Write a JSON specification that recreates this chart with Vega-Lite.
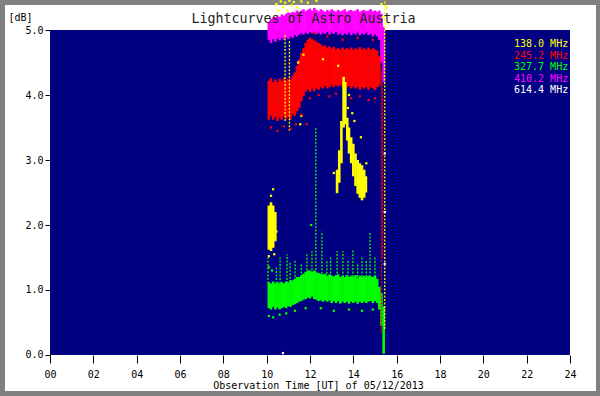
{
  "$schema": "https://vega.github.io/schema/vega-lite/v6.json",
  "width": 591,
  "height": 386,
  "autosize": {"type": "none"},
  "padding": {"left": 5, "top": 5, "right": 4, "bottom": 5},
  "background": "#808080",
  "config": {
    "view": {"fill": "white", "stroke": null},
    "font": "DejaVu Sans Mono",
    "axis": {"labelFont": "DejaVu Sans Mono", "titleFont": "DejaVu Sans Mono", "labelFontSize": 10, "titleFontSize": 10, "titleFontWeight": "normal", "labelColor": "black", "titleColor": "black", "tickColor": "black", "grid": false, "domain": false, "labelOverlap": false, "labelFlush": false}
  },
  "title": {
    "text": "Lightcurves of Astro Austria",
    "font": "DejaVu Sans Mono",
    "fontSize": 13.3,
    "fontWeight": "normal",
    "color": "#222222",
    "anchor": "middle",
    "frame": "group",
    "baseline": "alphabetic",
    "offset": 0,
    "dx": 3,
    "dy": 37
  },
  "datasets": {
    "bands": [
      {"f": "410.2 MHz", "t": 10.1, "lo": 4.85, "hi": 5.12},
      {"f": "410.2 MHz", "t": 10.2, "lo": 4.8, "hi": 5.17},
      {"f": "410.2 MHz", "t": 10.3, "lo": 4.86, "hi": 5.19},
      {"f": "410.2 MHz", "t": 10.4, "lo": 4.82, "hi": 5.2},
      {"f": "410.2 MHz", "t": 10.5, "lo": 4.87, "hi": 5.22},
      {"f": "410.2 MHz", "t": 10.6, "lo": 4.84, "hi": 5.2},
      {"f": "410.2 MHz", "t": 10.7, "lo": 4.88, "hi": 5.24},
      {"f": "410.2 MHz", "t": 10.8, "lo": 4.85, "hi": 5.22},
      {"f": "410.2 MHz", "t": 10.9, "lo": 4.88, "hi": 5.25},
      {"f": "410.2 MHz", "t": 11.0, "lo": 4.86, "hi": 5.27},
      {"f": "410.2 MHz", "t": 11.1, "lo": 4.9, "hi": 5.26},
      {"f": "410.2 MHz", "t": 11.2, "lo": 4.88, "hi": 5.28},
      {"f": "410.2 MHz", "t": 11.3, "lo": 4.92, "hi": 5.27},
      {"f": "410.2 MHz", "t": 11.4, "lo": 4.9, "hi": 5.3},
      {"f": "410.2 MHz", "t": 11.5, "lo": 4.93, "hi": 5.28},
      {"f": "410.2 MHz", "t": 11.6, "lo": 4.95, "hi": 5.3},
      {"f": "410.2 MHz", "t": 11.7, "lo": 4.93, "hi": 5.32},
      {"f": "410.2 MHz", "t": 11.8, "lo": 4.96, "hi": 5.29},
      {"f": "410.2 MHz", "t": 11.9, "lo": 4.94, "hi": 5.31},
      {"f": "410.2 MHz", "t": 12.0, "lo": 4.97, "hi": 5.33},
      {"f": "410.2 MHz", "t": 12.1, "lo": 4.95, "hi": 5.3},
      {"f": "410.2 MHz", "t": 12.2, "lo": 4.97, "hi": 5.34},
      {"f": "410.2 MHz", "t": 12.3, "lo": 4.94, "hi": 5.31},
      {"f": "410.2 MHz", "t": 12.4, "lo": 4.96, "hi": 5.29},
      {"f": "410.2 MHz", "t": 12.5, "lo": 4.93, "hi": 5.32},
      {"f": "410.2 MHz", "t": 12.6, "lo": 4.96, "hi": 5.3},
      {"f": "410.2 MHz", "t": 12.7, "lo": 4.94, "hi": 5.28},
      {"f": "410.2 MHz", "t": 12.8, "lo": 4.97, "hi": 5.31},
      {"f": "410.2 MHz", "t": 12.9, "lo": 4.93, "hi": 5.29},
      {"f": "410.2 MHz", "t": 13.0, "lo": 4.96, "hi": 5.32},
      {"f": "410.2 MHz", "t": 13.1, "lo": 4.94, "hi": 5.3},
      {"f": "410.2 MHz", "t": 13.2, "lo": 4.97, "hi": 5.28},
      {"f": "410.2 MHz", "t": 13.3, "lo": 4.93, "hi": 5.31},
      {"f": "410.2 MHz", "t": 13.4, "lo": 4.95, "hi": 5.29},
      {"f": "410.2 MHz", "t": 13.5, "lo": 4.92, "hi": 5.3},
      {"f": "410.2 MHz", "t": 13.6, "lo": 4.95, "hi": 5.32},
      {"f": "410.2 MHz", "t": 13.7, "lo": 4.93, "hi": 5.28},
      {"f": "410.2 MHz", "t": 13.8, "lo": 4.96, "hi": 5.3},
      {"f": "410.2 MHz", "t": 13.9, "lo": 4.92, "hi": 5.31},
      {"f": "410.2 MHz", "t": 14.0, "lo": 4.95, "hi": 5.29},
      {"f": "410.2 MHz", "t": 14.1, "lo": 4.93, "hi": 5.3},
      {"f": "410.2 MHz", "t": 14.2, "lo": 4.96, "hi": 5.32},
      {"f": "410.2 MHz", "t": 14.3, "lo": 4.92, "hi": 5.28},
      {"f": "410.2 MHz", "t": 14.4, "lo": 4.95, "hi": 5.3},
      {"f": "410.2 MHz", "t": 14.5, "lo": 4.93, "hi": 5.31},
      {"f": "410.2 MHz", "t": 14.6, "lo": 4.96, "hi": 5.29},
      {"f": "410.2 MHz", "t": 14.7, "lo": 4.92, "hi": 5.3},
      {"f": "410.2 MHz", "t": 14.8, "lo": 4.94, "hi": 5.32},
      {"f": "410.2 MHz", "t": 14.9, "lo": 4.9, "hi": 5.29},
      {"f": "410.2 MHz", "t": 15.0, "lo": 4.93, "hi": 5.3},
      {"f": "410.2 MHz", "t": 15.1, "lo": 4.9, "hi": 5.28},
      {"f": "410.2 MHz", "t": 15.2, "lo": 4.85, "hi": 5.3},
      {"f": "410.2 MHz", "t": 15.3, "lo": 4.5, "hi": 5.25},
      {"f": "410.2 MHz", "t": 15.4, "lo": 4.2, "hi": 5.05},
      {"f": "245.2 MHz", "t": 10.1, "lo": 3.62, "hi": 4.22},
      {"f": "245.2 MHz", "t": 10.2, "lo": 3.68, "hi": 4.26},
      {"f": "245.2 MHz", "t": 10.3, "lo": 3.62, "hi": 4.2},
      {"f": "245.2 MHz", "t": 10.4, "lo": 3.66, "hi": 4.24},
      {"f": "245.2 MHz", "t": 10.5, "lo": 3.6, "hi": 4.2},
      {"f": "245.2 MHz", "t": 10.6, "lo": 3.65, "hi": 4.25},
      {"f": "245.2 MHz", "t": 10.7, "lo": 3.62, "hi": 4.22},
      {"f": "245.2 MHz", "t": 10.8, "lo": 3.68, "hi": 4.27},
      {"f": "245.2 MHz", "t": 10.9, "lo": 3.63, "hi": 4.22},
      {"f": "245.2 MHz", "t": 11.0, "lo": 3.66, "hi": 4.25},
      {"f": "245.2 MHz", "t": 11.1, "lo": 3.62, "hi": 4.24},
      {"f": "245.2 MHz", "t": 11.2, "lo": 3.7, "hi": 4.3},
      {"f": "245.2 MHz", "t": 11.3, "lo": 3.68, "hi": 4.35},
      {"f": "245.2 MHz", "t": 11.4, "lo": 3.75, "hi": 4.45},
      {"f": "245.2 MHz", "t": 11.5, "lo": 3.8, "hi": 4.55},
      {"f": "245.2 MHz", "t": 11.6, "lo": 3.9, "hi": 4.65},
      {"f": "245.2 MHz", "t": 11.7, "lo": 3.98, "hi": 4.72},
      {"f": "245.2 MHz", "t": 11.8, "lo": 4.05, "hi": 4.8},
      {"f": "245.2 MHz", "t": 11.9, "lo": 4.08, "hi": 4.85},
      {"f": "245.2 MHz", "t": 12.0, "lo": 4.05, "hi": 4.88},
      {"f": "245.2 MHz", "t": 12.1, "lo": 4.1, "hi": 4.86},
      {"f": "245.2 MHz", "t": 12.2, "lo": 4.06, "hi": 4.84},
      {"f": "245.2 MHz", "t": 12.3, "lo": 4.1, "hi": 4.82},
      {"f": "245.2 MHz", "t": 12.4, "lo": 4.08, "hi": 4.8},
      {"f": "245.2 MHz", "t": 12.5, "lo": 4.12, "hi": 4.78},
      {"f": "245.2 MHz", "t": 12.6, "lo": 4.1, "hi": 4.75},
      {"f": "245.2 MHz", "t": 12.7, "lo": 4.14, "hi": 4.76},
      {"f": "245.2 MHz", "t": 12.8, "lo": 4.1, "hi": 4.73},
      {"f": "245.2 MHz", "t": 12.9, "lo": 4.12, "hi": 4.75},
      {"f": "245.2 MHz", "t": 13.0, "lo": 4.15, "hi": 4.72},
      {"f": "245.2 MHz", "t": 13.1, "lo": 4.12, "hi": 4.74},
      {"f": "245.2 MHz", "t": 13.2, "lo": 4.15, "hi": 4.7},
      {"f": "245.2 MHz", "t": 13.3, "lo": 4.13, "hi": 4.72},
      {"f": "245.2 MHz", "t": 13.4, "lo": 4.16, "hi": 4.7},
      {"f": "245.2 MHz", "t": 13.5, "lo": 4.12, "hi": 4.73},
      {"f": "245.2 MHz", "t": 13.6, "lo": 4.15, "hi": 4.7},
      {"f": "245.2 MHz", "t": 13.7, "lo": 4.12, "hi": 4.72},
      {"f": "245.2 MHz", "t": 13.8, "lo": 4.14, "hi": 4.7},
      {"f": "245.2 MHz", "t": 13.9, "lo": 4.1, "hi": 4.73},
      {"f": "245.2 MHz", "t": 14.0, "lo": 4.13, "hi": 4.7},
      {"f": "245.2 MHz", "t": 14.1, "lo": 4.1, "hi": 4.72},
      {"f": "245.2 MHz", "t": 14.2, "lo": 4.12, "hi": 4.7},
      {"f": "245.2 MHz", "t": 14.3, "lo": 4.08, "hi": 4.74},
      {"f": "245.2 MHz", "t": 14.4, "lo": 4.12, "hi": 4.7},
      {"f": "245.2 MHz", "t": 14.5, "lo": 4.1, "hi": 4.72},
      {"f": "245.2 MHz", "t": 14.6, "lo": 4.12, "hi": 4.7},
      {"f": "245.2 MHz", "t": 14.7, "lo": 4.08, "hi": 4.73},
      {"f": "245.2 MHz", "t": 14.8, "lo": 4.12, "hi": 4.7},
      {"f": "245.2 MHz", "t": 14.9, "lo": 4.1, "hi": 4.72},
      {"f": "245.2 MHz", "t": 15.0, "lo": 4.08, "hi": 4.7},
      {"f": "245.2 MHz", "t": 15.1, "lo": 4.12, "hi": 4.68},
      {"f": "245.2 MHz", "t": 15.2, "lo": 4.15, "hi": 4.6},
      {"f": "327.7 MHz", "t": 10.1, "lo": 0.72, "hi": 1.12},
      {"f": "327.7 MHz", "t": 10.2, "lo": 0.7, "hi": 1.1},
      {"f": "327.7 MHz", "t": 10.3, "lo": 0.74, "hi": 1.13},
      {"f": "327.7 MHz", "t": 10.4, "lo": 0.7, "hi": 1.1},
      {"f": "327.7 MHz", "t": 10.5, "lo": 0.73, "hi": 1.12},
      {"f": "327.7 MHz", "t": 10.6, "lo": 0.7, "hi": 1.1},
      {"f": "327.7 MHz", "t": 10.7, "lo": 0.72, "hi": 1.12},
      {"f": "327.7 MHz", "t": 10.8, "lo": 0.74, "hi": 1.1},
      {"f": "327.7 MHz", "t": 10.9, "lo": 0.72, "hi": 1.13},
      {"f": "327.7 MHz", "t": 11.0, "lo": 0.75, "hi": 1.12},
      {"f": "327.7 MHz", "t": 11.1, "lo": 0.74, "hi": 1.15},
      {"f": "327.7 MHz", "t": 11.2, "lo": 0.77, "hi": 1.15},
      {"f": "327.7 MHz", "t": 11.3, "lo": 0.78, "hi": 1.17},
      {"f": "327.7 MHz", "t": 11.4, "lo": 0.8, "hi": 1.2},
      {"f": "327.7 MHz", "t": 11.5, "lo": 0.82, "hi": 1.2},
      {"f": "327.7 MHz", "t": 11.6, "lo": 0.83, "hi": 1.22},
      {"f": "327.7 MHz", "t": 11.7, "lo": 0.85, "hi": 1.25},
      {"f": "327.7 MHz", "t": 11.8, "lo": 0.86, "hi": 1.28},
      {"f": "327.7 MHz", "t": 11.9, "lo": 0.88, "hi": 1.3},
      {"f": "327.7 MHz", "t": 12.0, "lo": 0.87, "hi": 1.3},
      {"f": "327.7 MHz", "t": 12.1, "lo": 0.9, "hi": 1.28},
      {"f": "327.7 MHz", "t": 12.2, "lo": 0.86, "hi": 1.3},
      {"f": "327.7 MHz", "t": 12.3, "lo": 0.85, "hi": 1.27},
      {"f": "327.7 MHz", "t": 12.4, "lo": 0.83, "hi": 1.26},
      {"f": "327.7 MHz", "t": 12.5, "lo": 0.84, "hi": 1.25},
      {"f": "327.7 MHz", "t": 12.6, "lo": 0.82, "hi": 1.24},
      {"f": "327.7 MHz", "t": 12.7, "lo": 0.84, "hi": 1.25},
      {"f": "327.7 MHz", "t": 12.8, "lo": 0.82, "hi": 1.22},
      {"f": "327.7 MHz", "t": 12.9, "lo": 0.84, "hi": 1.24},
      {"f": "327.7 MHz", "t": 13.0, "lo": 0.8, "hi": 1.22},
      {"f": "327.7 MHz", "t": 13.1, "lo": 0.83, "hi": 1.21},
      {"f": "327.7 MHz", "t": 13.2, "lo": 0.8, "hi": 1.23},
      {"f": "327.7 MHz", "t": 13.3, "lo": 0.83, "hi": 1.24},
      {"f": "327.7 MHz", "t": 13.4, "lo": 0.79, "hi": 1.2},
      {"f": "327.7 MHz", "t": 13.5, "lo": 0.82, "hi": 1.22},
      {"f": "327.7 MHz", "t": 13.6, "lo": 0.8, "hi": 1.2},
      {"f": "327.7 MHz", "t": 13.7, "lo": 0.82, "hi": 1.23},
      {"f": "327.7 MHz", "t": 13.8, "lo": 0.79, "hi": 1.2},
      {"f": "327.7 MHz", "t": 13.9, "lo": 0.82, "hi": 1.22},
      {"f": "327.7 MHz", "t": 14.0, "lo": 0.8, "hi": 1.2},
      {"f": "327.7 MHz", "t": 14.1, "lo": 0.82, "hi": 1.23},
      {"f": "327.7 MHz", "t": 14.2, "lo": 0.79, "hi": 1.19},
      {"f": "327.7 MHz", "t": 14.3, "lo": 0.82, "hi": 1.22},
      {"f": "327.7 MHz", "t": 14.4, "lo": 0.8, "hi": 1.2},
      {"f": "327.7 MHz", "t": 14.5, "lo": 0.82, "hi": 1.22},
      {"f": "327.7 MHz", "t": 14.6, "lo": 0.8, "hi": 1.2},
      {"f": "327.7 MHz", "t": 14.7, "lo": 0.82, "hi": 1.22},
      {"f": "327.7 MHz", "t": 14.8, "lo": 0.83, "hi": 1.21},
      {"f": "327.7 MHz", "t": 14.9, "lo": 0.8, "hi": 1.2},
      {"f": "327.7 MHz", "t": 15.0, "lo": 0.83, "hi": 1.22},
      {"f": "327.7 MHz", "t": 15.1, "lo": 0.8, "hi": 1.17},
      {"f": "327.7 MHz", "t": 15.2, "lo": 0.7, "hi": 1.05},
      {"f": "327.7 MHz", "t": 15.3, "lo": 0.45, "hi": 0.95},
      {"f": "327.7 MHz", "t": 15.4, "lo": 0.02, "hi": 0.75},
      {"f": "138.0 MHz", "t": 10.1, "lo": 1.62, "hi": 2.3},
      {"f": "138.0 MHz", "t": 10.2, "lo": 1.6, "hi": 2.35},
      {"f": "138.0 MHz", "t": 10.3, "lo": 1.65, "hi": 2.3},
      {"f": "138.0 MHz", "t": 10.4, "lo": 1.75, "hi": 2.2},
      {"f": "138.0 MHz", "t": 13.25, "lo": 2.49, "hi": 2.85},
      {"f": "138.0 MHz", "t": 13.35, "lo": 2.65, "hi": 3.15},
      {"f": "138.0 MHz", "t": 13.45, "lo": 2.95, "hi": 3.6},
      {"f": "138.0 MHz", "t": 13.55, "lo": 3.5, "hi": 4.28},
      {"f": "138.0 MHz", "t": 13.63, "lo": 3.55, "hi": 4.2},
      {"f": "138.0 MHz", "t": 13.72, "lo": 3.3, "hi": 3.65},
      {"f": "138.0 MHz", "t": 13.8, "lo": 3.1, "hi": 3.5},
      {"f": "138.0 MHz", "t": 13.9, "lo": 2.95, "hi": 3.35},
      {"f": "138.0 MHz", "t": 14.0, "lo": 2.75, "hi": 3.25},
      {"f": "138.0 MHz", "t": 14.1, "lo": 2.6, "hi": 3.1},
      {"f": "138.0 MHz", "t": 14.2, "lo": 2.48, "hi": 3.0},
      {"f": "138.0 MHz", "t": 14.3, "lo": 2.42, "hi": 2.95},
      {"f": "138.0 MHz", "t": 14.4, "lo": 2.38, "hi": 2.92},
      {"f": "138.0 MHz", "t": 14.5, "lo": 2.42, "hi": 2.85},
      {"f": "138.0 MHz", "t": 14.58, "lo": 2.5, "hi": 2.75}
    ],
    "spikes": [
      {"f": "327.7 MHz", "t": 10.06, "lo": 1.1, "hi": 1.5},
      {"f": "327.7 MHz", "t": 10.45, "lo": 1.1, "hi": 1.35},
      {"f": "327.7 MHz", "t": 10.62, "lo": 1.1, "hi": 1.5},
      {"f": "327.7 MHz", "t": 10.94, "lo": 1.1, "hi": 1.55},
      {"f": "327.7 MHz", "t": 11.08, "lo": 1.12, "hi": 1.42},
      {"f": "327.7 MHz", "t": 11.31, "lo": 1.15, "hi": 1.45},
      {"f": "327.7 MHz", "t": 11.6, "lo": 1.2, "hi": 1.4},
      {"f": "327.7 MHz", "t": 11.86, "lo": 1.25, "hi": 1.57},
      {"f": "327.7 MHz", "t": 12.09, "lo": 1.25, "hi": 1.6},
      {"f": "327.7 MHz", "t": 12.27, "lo": 1.2, "hi": 3.5},
      {"f": "327.7 MHz", "t": 12.55, "lo": 1.25, "hi": 1.9},
      {"f": "327.7 MHz", "t": 12.78, "lo": 1.25, "hi": 1.45},
      {"f": "327.7 MHz", "t": 12.95, "lo": 1.2, "hi": 1.5},
      {"f": "327.7 MHz", "t": 13.25, "lo": 1.2, "hi": 1.6},
      {"f": "327.7 MHz", "t": 13.52, "lo": 1.2, "hi": 1.6},
      {"f": "327.7 MHz", "t": 13.75, "lo": 1.2, "hi": 1.45},
      {"f": "327.7 MHz", "t": 13.98, "lo": 1.2, "hi": 1.62},
      {"f": "327.7 MHz", "t": 14.2, "lo": 1.2, "hi": 1.4},
      {"f": "327.7 MHz", "t": 14.4, "lo": 1.2, "hi": 1.52},
      {"f": "327.7 MHz", "t": 14.6, "lo": 1.2, "hi": 1.45},
      {"f": "327.7 MHz", "t": 14.77, "lo": 1.2, "hi": 1.88},
      {"f": "327.7 MHz", "t": 15.0, "lo": 1.2, "hi": 1.5},
      {"f": "245.2 MHz", "t": 15.3, "lo": 0.35, "hi": 4.4},
      {"f": "245.2 MHz", "t": 15.35, "lo": 1.5, "hi": 4.2},
      {"f": "138.0 MHz", "t": 10.85, "lo": 3.6, "hi": 4.95},
      {"f": "138.0 MHz", "t": 11.05, "lo": 3.45, "hi": 4.85},
      {"f": "138.0 MHz", "t": 15.45, "lo": 0.4, "hi": 5.45}
    ],
    "dots": [
      {"f": "138.0 MHz", "t": 10.45, "v": 5.4},
      {"f": "138.0 MHz", "t": 10.55, "v": 5.3},
      {"f": "138.0 MHz", "t": 10.65, "v": 5.44},
      {"f": "138.0 MHz", "t": 10.75, "v": 5.35},
      {"f": "138.0 MHz", "t": 10.85, "v": 5.42},
      {"f": "138.0 MHz", "t": 10.95, "v": 5.3},
      {"f": "138.0 MHz", "t": 11.05, "v": 5.45},
      {"f": "138.0 MHz", "t": 11.15, "v": 5.38},
      {"f": "138.0 MHz", "t": 11.25, "v": 5.43},
      {"f": "138.0 MHz", "t": 11.4, "v": 5.35},
      {"f": "138.0 MHz", "t": 11.6, "v": 5.44},
      {"f": "138.0 MHz", "t": 11.9, "v": 5.42},
      {"f": "138.0 MHz", "t": 12.3, "v": 5.45},
      {"f": "138.0 MHz", "t": 15.3, "v": 5.4},
      {"f": "138.0 MHz", "t": 15.35, "v": 5.2},
      {"f": "138.0 MHz", "t": 15.55, "v": 5.35},
      {"f": "138.0 MHz", "t": 15.6, "v": 5.1},
      {"f": "138.0 MHz", "t": 10.2, "v": 2.45},
      {"f": "138.0 MHz", "t": 10.3, "v": 2.55},
      {"f": "138.0 MHz", "t": 10.1, "v": 1.52},
      {"f": "138.0 MHz", "t": 10.35, "v": 1.55},
      {"f": "138.0 MHz", "t": 10.45, "v": 1.9},
      {"f": "138.0 MHz", "t": 13.75, "v": 3.8},
      {"f": "138.0 MHz", "t": 13.95, "v": 3.72},
      {"f": "138.0 MHz", "t": 14.05, "v": 3.6},
      {"f": "138.0 MHz", "t": 14.35, "v": 3.35},
      {"f": "138.0 MHz", "t": 14.6, "v": 2.95},
      {"f": "138.0 MHz", "t": 13.1, "v": 2.8},
      {"f": "138.0 MHz", "t": 13.3, "v": 4.45},
      {"f": "138.0 MHz", "t": 13.8, "v": 4.0},
      {"f": "138.0 MHz", "t": 11.45, "v": 4.5},
      {"f": "138.0 MHz", "t": 11.7, "v": 4.62},
      {"f": "138.0 MHz", "t": 12.6, "v": 4.55},
      {"f": "138.0 MHz", "t": 11.6, "v": 3.68},
      {"f": "138.0 MHz", "t": 11.55, "v": 3.55},
      {"f": "245.2 MHz", "t": 10.2, "v": 3.5},
      {"f": "245.2 MHz", "t": 10.5, "v": 3.45},
      {"f": "245.2 MHz", "t": 10.8, "v": 3.52},
      {"f": "245.2 MHz", "t": 11.1, "v": 3.48},
      {"f": "245.2 MHz", "t": 11.35, "v": 3.55},
      {"f": "245.2 MHz", "t": 11.6, "v": 3.7},
      {"f": "245.2 MHz", "t": 11.85, "v": 3.55},
      {"f": "245.2 MHz", "t": 12.0, "v": 3.95},
      {"f": "245.2 MHz", "t": 12.4, "v": 4.0},
      {"f": "245.2 MHz", "t": 12.9, "v": 3.98},
      {"f": "245.2 MHz", "t": 13.2, "v": 4.02},
      {"f": "245.2 MHz", "t": 13.9, "v": 3.95},
      {"f": "245.2 MHz", "t": 14.3, "v": 3.98},
      {"f": "245.2 MHz", "t": 14.7, "v": 3.92},
      {"f": "245.2 MHz", "t": 15.0, "v": 3.95},
      {"f": "245.2 MHz", "t": 12.2, "v": 4.95},
      {"f": "245.2 MHz", "t": 12.8, "v": 4.9},
      {"f": "245.2 MHz", "t": 13.5, "v": 4.85},
      {"f": "245.2 MHz", "t": 14.2, "v": 4.88},
      {"f": "245.2 MHz", "t": 14.9, "v": 4.85},
      {"f": "327.7 MHz", "t": 10.1, "v": 0.6},
      {"f": "327.7 MHz", "t": 10.3, "v": 0.58},
      {"f": "327.7 MHz", "t": 10.6, "v": 0.62},
      {"f": "327.7 MHz", "t": 10.9, "v": 0.64},
      {"f": "327.7 MHz", "t": 11.3, "v": 0.68},
      {"f": "327.7 MHz", "t": 11.8, "v": 0.72},
      {"f": "327.7 MHz", "t": 12.5, "v": 0.72},
      {"f": "327.7 MHz", "t": 13.1, "v": 0.68},
      {"f": "327.7 MHz", "t": 13.8, "v": 0.7},
      {"f": "327.7 MHz", "t": 14.4, "v": 0.68},
      {"f": "327.7 MHz", "t": 14.9, "v": 0.7},
      {"f": "327.7 MHz", "t": 10.1, "v": 1.35},
      {"f": "327.7 MHz", "t": 10.25, "v": 1.3},
      {"f": "327.7 MHz", "t": 12.05, "v": 2.0},
      {"f": "614.4 MHz", "t": 10.75, "v": 0.03},
      {"f": "614.4 MHz", "t": 15.45, "v": 2.2},
      {"f": "614.4 MHz", "t": 15.45, "v": 3.1},
      {"f": "614.4 MHz", "t": 15.45, "v": 1.4}
    ]
  },
  "layer": [
    {
      "data": {"values": [{}]},
      "mark": {"type": "rect", "color": "#000080"},
      "encoding": {
        "x": {
          "datum": 0, "type": "quantitative",
          "scale": {"domain": [-2.077, 25.2], "nice": false, "zero": false},
          "title": "Observation Time [UT] of 05/12/2013",
          "axis": {
            "values": [0, 1, 2, 3, 4, 5, 6, 7, 8, 9, 10, 11, 12, 13, 14, 15, 16, 17, 18, 19, 20, 21, 22, 23, 24],
            "offset": -36,
            "labelExpr": "datum.value % 2 === 0 ? (datum.value < 10 ? '0' : '') + datum.value : ''",
            "tickSize": {"condition": {"test": "datum.value % 2 === 0", "value": 8}, "value": 5},
            "labelBaseline": "alphabetic",
            "labelPadding": 14,
            "titleX": 313,
            "titleY": 33.5,
            "titleAlign": "center",
            "titleBaseline": "alphabetic"
          }
        },
        "x2": {"datum": 24},
        "y": {
          "datum": 0, "type": "quantitative",
          "scale": {"domain": [-0.554, 5.385], "nice": false, "zero": false},
          "title": "[dB]",
          "axis": {
            "values": [0, 0.5, 1, 1.5, 2, 2.5, 3, 3.5, 4, 4.5, 5],
            "format": ".1f",
            "offset": -45,
            "tickSize": 5,
            "labelPadding": 2,
            "titleAngle": 0,
            "titleX": -30,
            "titleY": 12,
            "titleAlign": "center",
            "titleBaseline": "middle"
          }
        },
        "y2": {"datum": 5}
      }
    },
    {
      "data": {"name": "bands"},
      "mark": {"type": "rule", "strokeWidth": 2.6, "strokeCap": "butt"},
      "encoding": {
        "x": {"field": "t", "type": "quantitative", "scale": {"domain": [-2.077, 25.2], "nice": false, "zero": false}, "title": "Observation Time [UT] of 05/12/2013"},
        "y": {"field": "lo", "type": "quantitative", "scale": {"domain": [-0.554, 5.385], "nice": false, "zero": false}, "title": "[dB]"},
        "y2": {"field": "hi"},
        "color": {
          "field": "f", "type": "nominal",
          "scale": {"domain": ["138.0 MHz", "245.2 MHz", "327.7 MHz", "410.2 MHz", "614.4 MHz"], "range": ["#ffff00", "#ff0000", "#00ff00", "#ff00ff", "#ffffff"]},
          "legend": {
            "orient": "none",
            "legendX": 499,
            "legendY": 34,
            "title": null,
            "padding": 0,
            "symbolOpacity": 0,
            "symbolSize": 0,
            "symbolStrokeWidth": 0,
            "labelOffset": 0,
            "labelFont": "DejaVu Sans Mono",
            "labelFontSize": 10,
            "rowPadding": 1.5,
            "encode": {"labels": {"update": {"fill": {"scale": "color", "field": "value"}}}}
          }
        }
      }
    },
    {
      "data": {"name": "spikes"},
      "mark": {"type": "rule", "strokeWidth": 1.3, "strokeDash": [2, 1.5]},
      "encoding": {
        "x": {"field": "t", "type": "quantitative", "scale": {"domain": [-2.077, 25.2], "nice": false, "zero": false}, "title": "Observation Time [UT] of 05/12/2013"},
        "y": {"field": "lo", "type": "quantitative", "scale": {"domain": [-0.554, 5.385], "nice": false, "zero": false}, "title": "[dB]"},
        "y2": {"field": "hi"},
        "color": {"field": "f", "type": "nominal"}
      }
    },
    {
      "data": {"name": "dots"},
      "mark": {"type": "point", "shape": "square", "filled": true, "size": 5, "opacity": 1},
      "encoding": {
        "x": {"field": "t", "type": "quantitative", "scale": {"domain": [-2.077, 25.2], "nice": false, "zero": false}, "title": "Observation Time [UT] of 05/12/2013"},
        "y": {"field": "v", "type": "quantitative", "scale": {"domain": [-0.554, 5.385], "nice": false, "zero": false}, "title": "[dB]"},
        "color": {"field": "f", "type": "nominal"}
      }
    }
  ]
}
